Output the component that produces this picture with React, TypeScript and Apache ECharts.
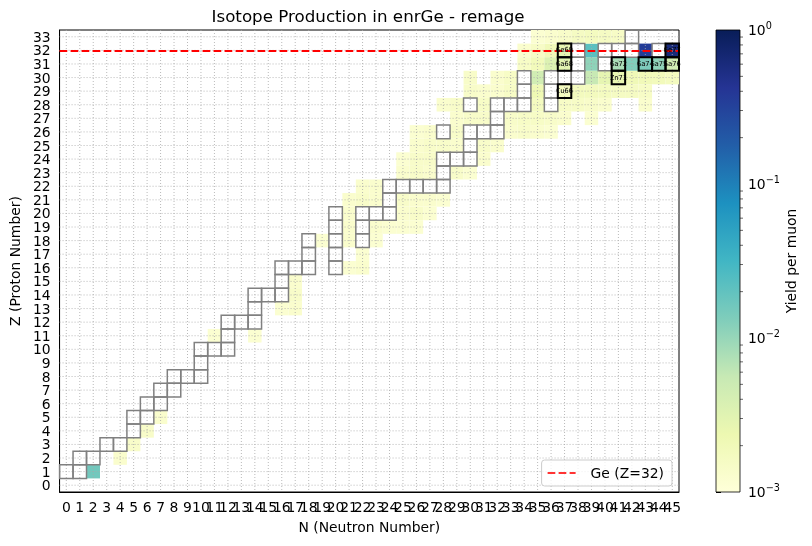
import React, { useEffect, useRef } from 'react';
import * as echarts from 'echarts';

const FONT = 'DejaVu Sans';

// axis categories
const N_LABELS = Array.from({ length: 46 }, (_, i) => String(i));
const Z_LABELS = Array.from({ length: 34 }, (_, i) => String(i));

// colorbar decades (log scale)
const CB_MIN = 0.001;
const CB_MAX = 1;
const MINOR_FACTORS = [2, 3, 4, 5, 6, 7, 8, 9];
const DECADES = [0.001, 0.01, 0.1];

const YLGNBU = ['#ffffd9', '#edf8b1', '#c7e9b4', '#7fcdbb', '#41b6c4', '#1d91c0', '#225ea8', '#253494', '#081d58'];

// stable nuclides [N, Z]
const STABLE: [number, number][] = [
  [0, 1], [1, 1], [1, 2], [2, 2], [3, 3], [4, 3], [5, 4], [5, 5], [6, 5], [6, 6], [7, 6],
  [7, 7], [8, 7], [8, 8], [9, 8], [10, 8], [10, 9], [10, 10], [11, 10], [12, 10], [12, 11],
  [12, 12], [13, 12], [14, 12], [14, 13], [14, 14], [15, 14], [16, 14], [16, 15],
  [16, 16], [17, 16], [18, 16], [20, 16], [18, 17], [20, 17], [18, 18], [20, 18], [22, 18],
  [20, 19], [22, 19], [20, 20], [22, 20], [23, 20], [24, 20], [24, 21],
  [24, 22], [25, 22], [26, 22], [27, 22], [28, 22], [28, 23], [28, 24], [29, 24], [30, 24],
  [30, 25], [28, 26], [30, 26], [31, 26], [32, 26], [32, 27],
  [30, 28], [32, 28], [33, 28], [34, 28], [36, 28], [34, 29], [36, 29],
  [34, 30], [36, 30], [37, 30], [38, 30], [38, 31], [40, 31],
  [38, 32], [40, 32], [41, 32], [42, 32], [44, 32], [42, 33],
];

// highlighted isotopes [name, N, Z]
const LABELED: [string, number, number][] = [
  ['Ge69', 37, 32], ['Ga68', 37, 31], ['Cu66', 37, 29], ['Zn71', 41, 30], ['Ga72', 41, 31],
  ['Ga74', 43, 31], ['Ga75', 44, 31], ['Ga76', 45, 31], ['Ge77', 45, 32],
];

// yields per muon [N, Z, yield]
const LIGHT_YIELDS: [number, number, number][] = [
  [2, 1, 0.016],
  [4, 2, 0.0013], [5, 3, 0.0014], [6, 4, 0.0014], [7, 5, 0.0013],
  [11, 11, 0.0012], [14, 11, 0.0012],
  [16, 13, 0.0012], [17, 13, 0.0013], [17, 14, 0.0014], [17, 15, 0.0013],
  [21, 16, 0.0012], [22, 16, 0.0013], [22, 17, 0.0012],
  [19, 18, 0.0012], [21, 18, 0.0013], [23, 18, 0.0012],
  [21, 19, 0.0013], [23, 19, 0.0013], [24, 19, 0.0012], [25, 19, 0.0012], [26, 19, 0.0012],
  [21, 20, 0.0013], [25, 20, 0.0013], [26, 20, 0.0014], [27, 20, 0.0012],
  [21, 21, 0.0013], [22, 21, 0.0014], [23, 21, 0.0013], [25, 21, 0.0014], [26, 21, 0.0013],
  [27, 21, 0.0013], [28, 21, 0.0012],
  [22, 22, 0.0013], [23, 22, 0.0013],
];

const MID_YIELDS: [number, number, number][] = [
  [25, 23, 0.0013], [26, 23, 0.0014], [27, 23, 0.0013], [29, 23, 0.0014], [30, 23, 0.0012],
  [25, 24, 0.0012], [26, 24, 0.0014], [27, 24, 0.0014], [31, 24, 0.0013],
  [26, 25, 0.0013], [27, 25, 0.0014], [28, 25, 0.0014], [29, 25, 0.0013], [31, 25, 0.0014], [32, 25, 0.0013],
  [26, 26, 0.0012], [27, 26, 0.0013], [29, 26, 0.0014], [33, 26, 0.0013], [34, 26, 0.0014],
  [35, 26, 0.0013], [36, 26, 0.0012],
  [29, 27, 0.0013], [30, 27, 0.0014], [31, 27, 0.0014], [33, 27, 0.0014], [34, 27, 0.0015],
  [35, 27, 0.0015], [36, 27, 0.0014], [37, 27, 0.0013], [39, 27, 0.0012],
  [28, 28, 0.0013], [29, 28, 0.0014], [31, 28, 0.0015], [35, 28, 0.0017], [37, 28, 0.0015],
  [38, 28, 0.0015], [39, 28, 0.0014], [40, 28, 0.0013], [43, 28, 0.0013],
];

const TOP_YIELDS: [number, number, number][] = [
  [30, 29, 0.0014], [31, 29, 0.0013], [32, 29, 0.0013], [33, 29, 0.0015], [35, 29, 0.0022],
  [37, 29, 0.0017], [38, 29, 0.0018], [39, 29, 0.0018], [40, 29, 0.0017], [41, 29, 0.0016],
  [42, 29, 0.0016], [43, 29, 0.0015],
  [30, 30, 0.0014], [32, 30, 0.0013], [33, 30, 0.0015], [35, 30, 0.0045], [39, 30, 0.0055],
  [40, 30, 0.0028], [41, 30, 0.0026], [42, 30, 0.0021], [43, 30, 0.002], [44, 30, 0.0019], [45, 30, 0.0017],
  [34, 31, 0.0015], [35, 31, 0.0019], [36, 31, 0.0035], [37, 31, 0.003], [39, 31, 0.011],
  [41, 31, 0.008], [42, 31, 0.013], [43, 31, 0.014], [44, 31, 0.011], [45, 31, 0.0045],
  [34, 32, 0.0013], [35, 32, 0.0015], [36, 32, 0.002], [37, 32, 0.0028], [39, 32, 0.022],
  [43, 32, 0.35], [45, 32, 0.6],
  [35, 33, 0.0012], [36, 33, 0.0013], [37, 33, 0.0014], [38, 33, 0.0016], [39, 33, 0.0017],
  [40, 33, 0.0016], [41, 33, 0.0015],
];

const GE_LINE_Z = 32;
const GE_LEGEND = 'Ge (Z=32)';

const hexToRgb = (h: string) => [1, 3, 5].map((i) => parseInt(h.slice(i, i + 2), 16));

const yieldColor = (v: number) => {
  let t = (Math.log10(v) - Math.log10(CB_MIN)) / (Math.log10(CB_MAX) - Math.log10(CB_MIN));
  t = Math.max(0, Math.min(1, t));
  const pos = t * (YLGNBU.length - 1);
  const i = Math.min(Math.floor(pos), YLGNBU.length - 2);
  const f = pos - i;
  const a = hexToRgb(YLGNBU[i]);
  const b = hexToRgb(YLGNBU[i + 1]);
  const c = a.map((x, k) => Math.round(x + (b[k] - x) * f));
  return `rgb(${c[0]},${c[1]},${c[2]})`;
};

const cellRect = (api: any) => {
  const c = api.coord([api.value(0), api.value(1)]);
  const s = api.size([1, 1]);
  return { x: c[0] - s[0] / 2, y: c[1] - s[1] / 2, width: s[0], height: s[1] };
};

const supLabel = (v: number) => {
  const e = Math.round(Math.log10(v));
  return `{b|10}{e|${e < 0 ? '\u2212' + Math.abs(e) : e}}`;
};

const App = (): JSX.Element => {
  const divEL = useRef(null);

  useEffect(() => {
    const instance = echarts.init(divEL.current as any, null, { renderer: 'svg' });
    const yields = [...LIGHT_YIELDS, ...MID_YIELDS, ...TOP_YIELDS];
    const minor: number[] = [];
    DECADES.forEach((d) => MINOR_FACTORS.forEach((m) => minor.push(d * m)));

    const option: any = {
      animation: false,
      textStyle: { fontFamily: FONT },
      graphic: [
        {
          type: 'text',
          x: 368,
          y: 16,
          style: {
            text: 'Isotope Production in enrGe - remage',
            font: `16.7px "${FONT}"`,
            fill: '#000',
            align: 'center',
            verticalAlign: 'middle',
          },
        },
      ],
      legend: {
        data: [{ name: GE_LEGEND, icon: 'path://M0,0H7.7V2H0Z M11,0H18.7V2H11Z M22,0H28V2H22Z' }],
        right: 140,
        bottom: 60,
        padding: [6, 8, 6, 6],
        itemWidth: 28,
        itemHeight: 2,
        backgroundColor: 'rgba(255,255,255,0.8)',
        borderColor: '#cccccc',
        borderWidth: 1,
        borderRadius: 3,
        textStyle: { fontSize: 13.9, fontFamily: FONT, color: '#000', padding: [0, 0, 0, 10] },
      },
      grid: [
        { left: 57, right: 133, top: 30, bottom: 54, show: true, borderColor: '#000', borderWidth: 1, backgroundColor: 'transparent' },
        { left: 716, width: 24, top: 30, bottom: 54 },
      ],
      xAxis: [
        {
          gridIndex: 0,
          type: 'category',
          data: N_LABELS,
          boundaryGap: true,
          name: 'N (Neutron Number)',
          nameLocation: 'middle',
          nameGap: 28,
          nameTextStyle: { fontSize: 13.9, color: '#000', fontFamily: FONT },
          axisLine: { lineStyle: { color: '#000', width: 1 } },
          axisTick: { alignWithLabel: true, length: 5, lineStyle: { color: '#000' } },
          axisLabel: { interval: 0, color: '#000', fontSize: 13.9, fontFamily: FONT, margin: 8 },
          splitLine: { show: false },
        },
        { gridIndex: 1, type: 'value', min: 0, max: 1, show: false },
      ],
      yAxis: [
        {
          gridIndex: 0,
          type: 'category',
          data: Z_LABELS,
          boundaryGap: true,
          name: 'Z (Proton Number)',
          nameLocation: 'middle',
          nameGap: 34,
          nameRotate: 90,
          nameTextStyle: { fontSize: 13.9, color: '#000', fontFamily: FONT },
          axisLine: { lineStyle: { color: '#000', width: 1 } },
          axisTick: { alignWithLabel: true, length: 5, lineStyle: { color: '#000' } },
          axisLabel: { interval: 0, color: '#000', fontSize: 13.9, fontFamily: FONT, margin: 9 },
          splitLine: { show: false },
        },
        {
          gridIndex: 1,
          type: 'log',
          logBase: 10,
          min: CB_MIN,
          max: CB_MAX,
          position: 'right',
          name: 'Yield per muon',
          nameLocation: 'middle',
          nameGap: 41,
          nameRotate: 90,
          nameTextStyle: { fontSize: 13.9, color: '#000', fontFamily: FONT },
          axisLine: { show: false },
          axisTick: { show: true, length: 5, lineStyle: { color: '#000' } },
          axisLabel: {
            color: '#000',
            margin: 8,
            formatter: supLabel,
            rich: {
              b: { fontSize: 13.9, fontFamily: FONT, color: '#000' },
              e: { fontSize: 9.7, fontFamily: FONT, color: '#000', padding: [0, 0, 9, 0] },
            },
          },
          splitLine: { show: false },
        },
      ],
      series: [
        {
          type: 'custom',
          xAxisIndex: 0,
          yAxisIndex: 0,
          silent: true,
          z: 1,
          data: yields,
          renderItem: (params: any, api: any) => ({
            type: 'rect',
            shape: cellRect(api),
            style: { fill: yieldColor(api.value(2)) },
          }),
        },
        {
          type: 'custom',
          xAxisIndex: 0,
          yAxisIndex: 0,
          silent: true,
          z: 2,
          data: N_LABELS.map((n) => [Number(n), 0]),
          renderItem: (params: any, api: any) => {
            const x = api.coord([api.value(0), 0])[0];
            const cs = params.coordSys;
            return {
              type: 'line',
              shape: { x1: x, y1: cs.y, x2: x, y2: cs.y + cs.height },
              style: { stroke: '#a8a8a8', lineWidth: 0.8, lineDash: [1, 2] },
            };
          },
        },
        {
          type: 'custom',
          xAxisIndex: 0,
          yAxisIndex: 0,
          silent: true,
          z: 2,
          data: Z_LABELS.map((z) => [0, Number(z)]),
          renderItem: (params: any, api: any) => {
            const y = api.coord([0, api.value(1)])[1];
            const cs = params.coordSys;
            return {
              type: 'line',
              shape: { x1: cs.x, y1: y, x2: cs.x + cs.width, y2: y },
              style: { stroke: '#a8a8a8', lineWidth: 0.8, lineDash: [1, 2] },
            };
          },
        },
        {
          type: 'custom',
          xAxisIndex: 0,
          yAxisIndex: 0,
          silent: true,
          z: 3,
          data: STABLE,
          renderItem: (params: any, api: any) => ({
            type: 'rect',
            shape: cellRect(api),
            style: { fill: 'none', stroke: '#808080', lineWidth: 1.5 },
          }),
        },
        {
          name: GE_LEGEND,
          type: 'scatter',
          xAxisIndex: 0,
          yAxisIndex: 0,
          z: 4,
          data: [],
          itemStyle: { color: '#ff0000' },
          markLine: {
            silent: true,
            symbol: ['none', 'none'],
            label: { show: false },
            lineStyle: { color: '#ff0000', width: 2, type: [7.7, 3.3] },
            data: [{ yAxis: GE_LINE_Z }],
          },
        },
        {
          type: 'custom',
          xAxisIndex: 0,
          yAxisIndex: 0,
          silent: true,
          z: 5,
          data: LABELED.map(([name, n, z]) => [n, z]),
          renderItem: (params: any, api: any) => {
            const r = cellRect(api);
            return {
              type: 'group',
              children: [
                { type: 'rect', shape: r, style: { fill: 'none', stroke: '#000', lineWidth: 2 } },
                {
                  type: 'text',
                  x: r.x + r.width / 2,
                  y: r.y + r.height / 2,
                  style: {
                    text: LABELED[params.dataIndex][0],
                    fontSize: 7,
                    fontFamily: 'DejaVu Sans Mono',
                    fill: '#000',
                    align: 'center',
                    verticalAlign: 'middle',
                  },
                },
              ],
            };
          },
        },
        {
          type: 'custom',
          xAxisIndex: 1,
          yAxisIndex: 1,
          silent: true,
          data: [[0.5, 0.01]],
          renderItem: (params: any) => {
            const cs = params.coordSys;
            return {
              type: 'rect',
              shape: { x: cs.x, y: cs.y, width: cs.width, height: cs.height },
              style: {
                fill: new echarts.graphic.LinearGradient(
                  0, 1, 0, 0,
                  YLGNBU.map((c, i) => ({ offset: i / (YLGNBU.length - 1), color: c })),
                ),
                stroke: '#000',
                lineWidth: 0.8,
              },
            };
          },
        },
        {
          type: 'custom',
          xAxisIndex: 1,
          yAxisIndex: 1,
          silent: true,
          data: minor.map((v) => [0, v]),
          renderItem: (params: any, api: any) => {
            const y = api.coord([0, api.value(1)])[1];
            const cs = params.coordSys;
            const x = cs.x + cs.width;
            return {
              type: 'line',
              shape: { x1: x, y1: y, x2: x + 3, y2: y },
              style: { stroke: '#000', lineWidth: 0.6 },
            };
          },
        },
      ],
    };

    instance.setOption(option);
    return () => {
      instance.dispose();
    };
  }, []);

  return <div ref={divEL} style={{ position: 'fixed', left: 0, top: 0, width: 812, height: 546 }}></div>;
};

export default App;
